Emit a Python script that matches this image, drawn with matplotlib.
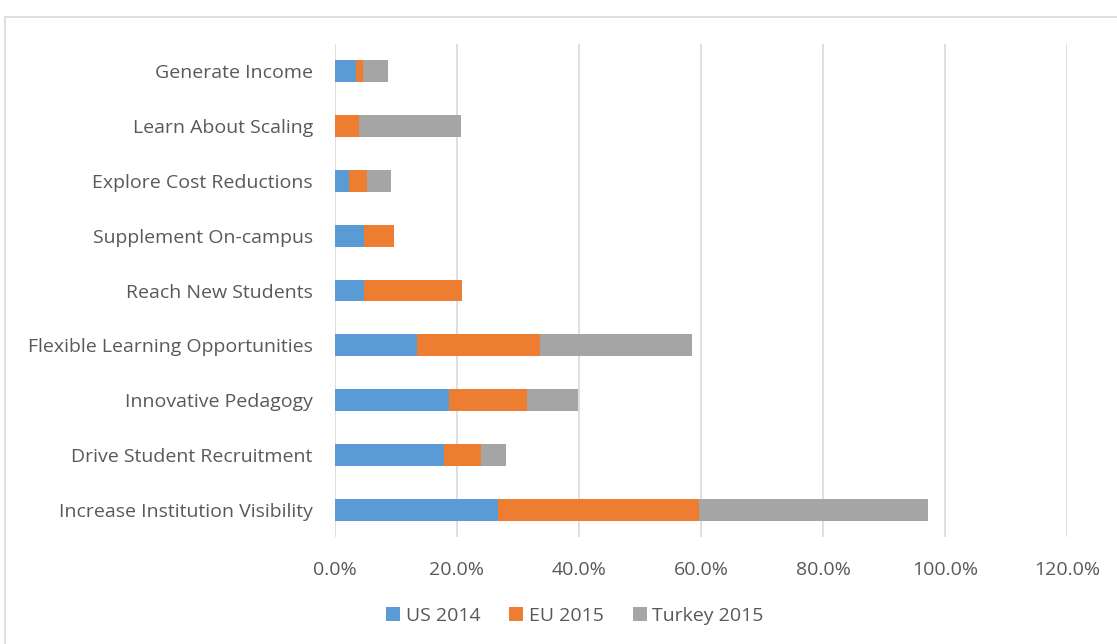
import matplotlib
matplotlib.use('agg')
import matplotlib.pyplot as plt
from matplotlib.patches import Rectangle
from matplotlib.ticker import FuncFormatter

categories = ['Increase Institution Visibility', 'Drive Student Recruitment', 'Innovative Pedagogy',
              'Flexible Learning Opportunities', 'Reach New Students', 'Supplement On-campus',
              'Explore Cost Reductions', 'Learn About Scaling', 'Generate Income']
us_2014 = [26.7, 17.9, 18.7, 13.4, 4.8, 4.8, 2.3, 0.0, 3.5]
eu_2015 = [32.9, 6.0, 12.8, 20.2, 16.1, 4.8, 2.9, 3.9, 1.1]
turkey_2015 = [37.6, 4.2, 8.4, 25.0, 0.0, 0.0, 4.0, 16.8, 4.1]
series = [('US 2014', us_2014, '#5B9BD5'), ('EU 2015', eu_2015, '#ED7D31'),
          ('Turkey 2015', turkey_2015, '#A5A5A5')]

plt.rcParams['font.family'] = ['Open Sans', 'DejaVu Sans']
fig = plt.figure(figsize=(11.17, 6.44), dpi=100)
fig.patches.append(Rectangle((5 / 1117, -0.1), 1.2, 1 - 17 / 644 + 0.1, transform=fig.transFigure,
                             fill=False, edgecolor='#D9D9D9', linewidth=1.2))
ax = fig.add_axes([0.2999, 0.1661, 0.6553, 0.7656])

left = [0.0] * len(categories)
for name, vals, col in series:
    ax.barh(range(len(categories)), vals, left=left, height=0.4, color=col, label=name, zorder=3)
    left = [a + b for a, b in zip(left, vals)]

ax.set_xlim(0, 120)
ax.set_ylim(-0.5, len(categories) - 0.5)
ax.set_xticks(range(0, 121, 20))
ax.xaxis.set_major_formatter(FuncFormatter(lambda v, p: f'{v:.1f}%'))
ax.set_yticks(range(len(categories)))
ax.set_yticklabels(categories)
ax.grid(axis='x', color='#D9D9D9', linewidth=1.2, zorder=0)
for s in ax.spines.values():
    s.set_visible(False)
ax.tick_params(length=0, colors='#595959', labelsize=14)
ax.tick_params(axis='x', pad=17)
ax.tick_params(axis='y', pad=16)

ax.legend(loc='center', bbox_to_anchor=(575 / 1117, 1 - 616 / 644), bbox_transform=fig.transFigure,
          ncol=3, frameon=False, fontsize=14, handlelength=0.7, handleheight=0.7,
          columnspacing=1.5, handletextpad=0.3, labelcolor='#595959')

fig.savefig('out.png', dpi=100)
